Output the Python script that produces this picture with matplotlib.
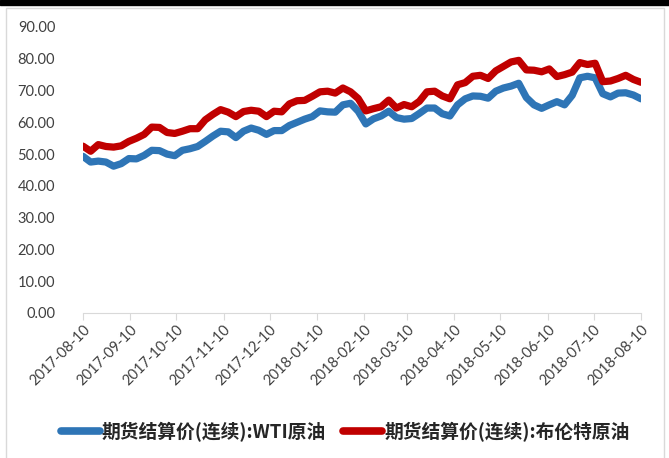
import numpy as np
import pandas as pd
import matplotlib
matplotlib.use('Agg')
import matplotlib.pyplot as plt
import matplotlib.dates as mdates
from matplotlib.patches import Rectangle

# data, one point roughly every 5 days
dates = pd.date_range('2017-08-10', '2018-08-10', freq='5D')

wti = [49.3, 47.5, 47.8, 47.5, 46.2, 47.0, 48.6, 48.5, 49.6, 51.2,
       51.1, 50.0, 49.5, 51.2, 51.7, 52.4, 54.0, 55.7, 57.2, 57.0,
       55.2, 57.2, 58.2, 57.5, 56.2, 57.4, 57.4, 59.0, 60.0, 61.0,
       61.8, 63.6, 63.3, 63.2, 65.5, 66.0, 63.5, 59.5, 61.1, 62.0,
       63.5, 61.5, 61.0, 61.2, 62.8, 64.5, 64.5, 62.7, 62.0, 65.5,
       67.4, 68.3, 68.2, 67.6, 69.8, 70.8, 71.4, 72.3, 67.8, 65.5,
       64.4, 65.5, 66.5, 65.5, 68.5, 74.0, 74.5, 74.0, 69.0, 68.0,
       69.2, 69.3, 68.6, 67.4]

brent = [52.5, 50.9, 53.0, 52.4, 52.2, 52.6, 54.0, 55.0, 56.2, 58.5,
         58.4, 56.8, 56.5, 57.2, 58.0, 58.0, 60.8, 62.5, 64.0, 63.2,
         61.8, 63.4, 63.8, 63.5, 61.8, 63.5, 63.3, 65.8, 66.8, 66.9,
         68.2, 69.6, 69.8, 69.2, 70.8, 69.6, 67.5, 63.6, 64.3, 64.9,
         67.0, 64.5, 65.6, 64.9, 66.6, 69.6, 69.8, 68.3, 67.4, 71.8,
         72.5, 74.5, 74.8, 73.8, 76.2, 77.6, 79.0, 79.5, 76.5, 76.4,
         75.9, 76.8, 74.4, 75.0, 75.8, 78.8, 78.2, 78.6, 72.8, 73.0,
         73.8, 74.8, 73.5, 72.6]

labels = ['期货结算价(连续):WTI原油', '期货结算价(连续):布伦特原油']
colors = ['#2E75B6', '#C00000']
y_ticks = np.arange(0, 91, 10)

plt.rcParams['font.family'] = ['Noto Sans CJK SC', 'DejaVu Sans']

fig = plt.figure(figsize=(6.69, 4.58), dpi=100)

# chart frame: black strip on top, light grey border
fig.patches.append(Rectangle((6 / 669, -0.01), 658 / 669, 1 - 8 / 458 + 0.01,
                             transform=fig.transFigure, fill=False,
                             edgecolor='#D9D9D9', linewidth=1))
fig.patches.append(Rectangle((0, 1 - 5 / 458), 1, 5 / 458,
                             transform=fig.transFigure, color='black'))

ax = fig.add_axes([83 / 669, 145 / 458, 558 / 669, 286 / 458])

ax.plot(dates, wti, color=colors[0], linewidth=5.2, solid_capstyle='round',
        solid_joinstyle='round', label=labels[0])
ax.plot(dates, brent, color=colors[1], linewidth=5.2, solid_capstyle='round',
        solid_joinstyle='round', label=labels[1])

ax.set_ylim(0, 90)
ax.set_yticks(y_ticks)
ax.set_yticklabels([f'{v:.2f}' for v in y_ticks], fontsize=10.5,
                   family='Lato', color='#404040')
ax.tick_params(axis='y', length=0, pad=20)

ax.set_xlim(pd.Timestamp('2017-08-10'), pd.Timestamp('2018-08-10'))
ax.xaxis.set_major_locator(mdates.MonthLocator(bymonthday=10))
ax.xaxis.set_major_formatter(mdates.DateFormatter('%Y-%m-%d'))
ax.tick_params(axis='x', length=5, color='#D9D9D9', pad=2)
for t in ax.get_xticklabels():
    t.set_rotation(45)
    t.set_ha('right')
    t.set_rotation_mode('anchor')
    t.set_fontsize(10.5)
    t.set_family('Lato')
    t.set_color('#404040')

for side in ['top', 'right', 'left']:
    ax.spines[side].set_visible(False)
ax.spines['bottom'].set_color('#D9D9D9')

leg = fig.legend(loc='center', bbox_to_anchor=(345 / 669, 26 / 458), ncol=2,
                 frameon=False, handlelength=2.1, columnspacing=0.9,
                 handletextpad=0.1,
                 prop={'size': 13.5, 'weight': 'bold'})
for line in leg.get_lines():
    line.set_linewidth(5.5)
    line.set_solid_capstyle('round')
for t in leg.get_texts():
    t.set_color('#262626')

fig.savefig('out.png', dpi=100)
